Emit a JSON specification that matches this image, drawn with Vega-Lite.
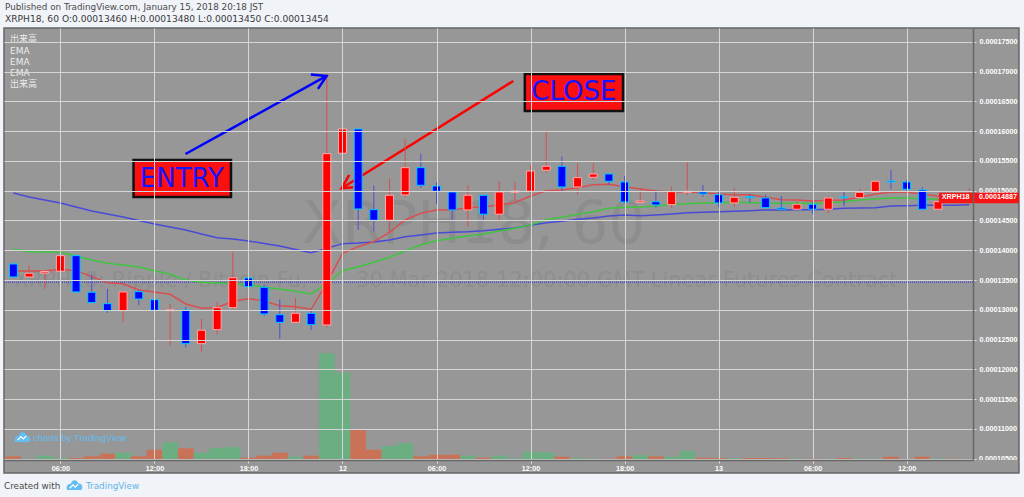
{
"$schema":"https://vega.github.io/schema/vega-lite/v6.json",
"width":969,"height":432,"autosize":{"type":"none"},
"padding":{"left":4,"top":28,"right":51,"bottom":37},
"background":"#f0f3f7",
"view":{"fill":"#979797","stroke":null},
"title":{"text":"Published on TradingView.com, January 15, 2018 20:18 JST","subtitle":"XRPH18, 60 O:0.00013460 H:0.00013480 L:0.00013450 C:0.00013454","anchor":"start","frame":"group","font":"DejaVu Sans","fontSize":8.8,"fontWeight":"normal","color":"#4a4a4a","subtitleFont":"DejaVu Sans","subtitleFontSize":9.15,"subtitleColor":"#3a3a3a","subtitlePadding":3,"offset":3,"dx":1},
"datasets":{
"bars":[
{"t":"2018-01-11T03:00:00Z","dir":"down","o":0.00013769,"h":0.00013778,"l":0.00013539,"c":0.00013551,"e1":0.00013652,"e2":0.00014016,"e3":0.00014963,"v":370},
{"t":"2018-01-11T04:00:00Z","dir":"up","o":0.00013551,"h":0.00013741,"l":0.00013546,"c":0.00013613,"e1":0.00013652,"e2":0.00013976,"e3":0.00014895,"v":130},
{"t":"2018-01-11T05:00:00Z","dir":"up","o":0.00013618,"h":0.00013652,"l":0.00013349,"c":0.00013643,"e1":0.00013652,"e2":0.00013971,"e3":0.00014845,"v":430},
{"t":"2018-01-11T06:00:00Z","dir":"up","o":0.00013647,"h":0.00013988,"l":0.00013647,"c":0.00013909,"e1":0.0001368,"e2":0.00013966,"e3":0.00014795,"v":200},
{"t":"2018-01-11T07:00:00Z","dir":"down","o":0.00013909,"h":0.00013909,"l":0.00013299,"c":0.00013299,"e1":0.00013657,"e2":0.00013904,"e3":0.00014727,"v":200},
{"t":"2018-01-11T08:00:00Z","dir":"down","o":0.00013294,"h":0.00013601,"l":0.00013114,"c":0.00013119,"e1":0.00013556,"e2":0.00013837,"e3":0.0001466,"v":370},
{"t":"2018-01-11T09:00:00Z","dir":"down","o":0.00013102,"h":0.00013349,"l":0.00012946,"c":0.00012984,"e1":0.00013455,"e2":0.00013781,"e3":0.0001461,"v":630},
{"t":"2018-01-11T10:00:00Z","dir":"up","o":0.00012984,"h":0.00013299,"l":0.00012789,"c":0.00013299,"e1":0.00013438,"e2":0.00013753,"e3":0.00014559,"v":730},
{"t":"2018-01-11T11:00:00Z","dir":"down","o":0.00013304,"h":0.00013332,"l":0.00013075,"c":0.00013181,"e1":0.00013332,"e2":0.00013719,"e3":0.000145,"v":370},
{"t":"2018-01-11T12:00:00Z","dir":"down","o":0.00013169,"h":0.00013472,"l":0.00012857,"c":0.00012991,"e1":0.00013299,"e2":0.00013657,"e3":0.00014442,"v":1030},
{"t":"2018-01-11T13:00:00Z","dir":"up","o":0.00012984,"h":0.00013097,"l":0.00012396,"c":0.00013001,"e1":0.0001326,"e2":0.00013596,"e3":0.00014391,"v":1770},
{"t":"2018-01-11T14:00:00Z","dir":"down","o":0.00012996,"h":0.00013047,"l":0.00012369,"c":0.0001243,"e1":0.00013097,"e2":0.000135,"e3":0.00014341,"v":1170},
{"t":"2018-01-11T15:00:00Z","dir":"up","o":0.0001243,"h":0.00012845,"l":0.00012295,"c":0.00012655,"e1":0.00013025,"e2":0.00013462,"e3":0.00014274,"v":730},
{"t":"2018-01-11T16:00:00Z","dir":"up","o":0.00012665,"h":0.00013131,"l":0.00012588,"c":0.00013035,"e1":0.00013035,"e2":0.0001345,"e3":0.00014211,"v":1200},
{"t":"2018-01-11T17:00:00Z","dir":"up","o":0.00013035,"h":0.00013976,"l":0.00013013,"c":0.00013539,"e1":0.00013142,"e2":0.00013438,"e3":0.0001419,"v":1300},
{"t":"2018-01-11T18:00:00Z","dir":"down","o":0.00013534,"h":0.0001359,"l":0.00013203,"c":0.00013388,"e1":0.00013186,"e2":0.00013416,"e3":0.00014156,"v":230},
{"t":"2018-01-11T19:00:00Z","dir":"down","o":0.00013378,"h":0.00013428,"l":0.00012895,"c":0.00012929,"e1":0.00013147,"e2":0.00013378,"e3":0.00014114,"v":430},
{"t":"2018-01-11T20:00:00Z","dir":"down","o":0.00012917,"h":0.00013176,"l":0.00012514,"c":0.00012789,"e1":0.00013069,"e2":0.00013349,"e3":0.00014072,"v":730},
{"t":"2018-01-11T21:00:00Z","dir":"up","o":0.00012789,"h":0.00013198,"l":0.00012785,"c":0.00012941,"e1":0.00013052,"e2":0.00013311,"e3":0.00014013,"v":330},
{"t":"2018-01-11T22:00:00Z","dir":"down","o":0.00012941,"h":0.00012996,"l":0.0001266,"c":0.00012749,"e1":0.00013008,"e2":0.00013265,"e3":0.00013959,"v":430},
{"t":"2018-01-11T23:00:00Z","dir":"up","o":0.00012744,"h":0.00016966,"l":0.00012705,"c":0.00015623,"e1":0.0001345,"e2":0.00013445,"e3":0.00014033,"v":10670},
{"t":"2018-01-12T00:00:00Z","dir":"up","o":0.0001563,"h":0.00016341,"l":0.00015047,"c":0.00016038,"e1":0.00013949,"e2":0.00013657,"e3":0.00014111,"v":8770},
{"t":"2018-01-12T01:00:00Z","dir":"down","o":0.00016038,"h":0.00016038,"l":0.00014341,"c":0.00014694,"e1":0.0001406,"e2":0.00013724,"e3":0.00014122,"v":3070},
{"t":"2018-01-12T02:00:00Z","dir":"down","o":0.00014682,"h":0.00015085,"l":0.00014319,"c":0.00014504,"e1":0.00014144,"e2":0.00013798,"e3":0.00014139,"v":1030},
{"t":"2018-01-12T03:00:00Z","dir":"up","o":0.00014504,"h":0.00015198,"l":0.00014307,"c":0.00014924,"e1":0.00014302,"e2":0.00013882,"e3":0.00014173,"v":1400},
{"t":"2018-01-12T04:00:00Z","dir":"up","o":0.00014929,"h":0.0001587,"l":0.0001489,"c":0.00015388,"e1":0.00014509,"e2":0.00013988,"e3":0.00014228,"v":1700},
{"t":"2018-01-12T05:00:00Z","dir":"down","o":0.00015388,"h":0.00015618,"l":0.00015047,"c":0.00015092,"e1":0.00014621,"e2":0.00014089,"e3":0.00014257,"v":370},
{"t":"2018-01-12T06:00:00Z","dir":"down","o":0.0001508,"h":0.00015142,"l":0.00014778,"c":0.00014991,"e1":0.00014677,"e2":0.00014161,"e3":0.0001429,"v":530},
{"t":"2018-01-12T07:00:00Z","dir":"down","o":0.00014979,"h":0.00014979,"l":0.00014492,"c":0.00014677,"e1":0.00014677,"e2":0.00014201,"e3":0.00014302,"v":530},
{"t":"2018-01-12T08:00:00Z","dir":"up","o":0.00014677,"h":0.00015085,"l":0.00014396,"c":0.00014924,"e1":0.00014716,"e2":0.0001424,"e3":0.00014312,"v":430},
{"t":"2018-01-12T09:00:00Z","dir":"down","o":0.00014924,"h":0.00014924,"l":0.00014514,"c":0.00014605,"e1":0.00014732,"e2":0.00014274,"e3":0.00014329,"v":230},
{"t":"2018-01-12T10:00:00Z","dir":"up","o":0.00014605,"h":0.00015164,"l":0.00014514,"c":0.00014979,"e1":0.00014761,"e2":0.00014324,"e3":0.00014353,"v":430},
{"t":"2018-01-12T11:00:00Z","dir":"up","o":0.00014974,"h":0.00015153,"l":0.00014816,"c":0.00014996,"e1":0.000148,"e2":0.00014369,"e3":0.00014374,"v":170},
{"t":"2018-01-12T12:00:00Z","dir":"up","o":0.00014991,"h":0.00015438,"l":0.00014946,"c":0.00015332,"e1":0.00014912,"e2":0.00014425,"e3":0.0001442,"v":830},
{"t":"2018-01-12T13:00:00Z","dir":"up","o":0.00015344,"h":0.00015988,"l":0.00015304,"c":0.00015411,"e1":0.00015001,"e2":0.00014514,"e3":0.00014463,"v":770},
{"t":"2018-01-12T14:00:00Z","dir":"down","o":0.00015411,"h":0.00015573,"l":0.00014996,"c":0.00015063,"e1":0.00015013,"e2":0.00014554,"e3":0.00014487,"v":330},
{"t":"2018-01-12T15:00:00Z","dir":"up","o":0.00015063,"h":0.00015462,"l":0.00014934,"c":0.0001522,"e1":0.00015052,"e2":0.00014605,"e3":0.00014521,"v":200},
{"t":"2018-01-12T16:00:00Z","dir":"up","o":0.00015226,"h":0.00015462,"l":0.00015186,"c":0.00015282,"e1":0.00015102,"e2":0.00014648,"e3":0.00014542,"v":130},
{"t":"2018-01-12T17:00:00Z","dir":"down","o":0.00015282,"h":0.00015282,"l":0.00015097,"c":0.00015159,"e1":0.00015109,"e2":0.00014706,"e3":0.00014576,"v":130},
{"t":"2018-01-12T18:00:00Z","dir":"down","o":0.00015148,"h":0.00015248,"l":0.00014795,"c":0.00014811,"e1":0.00015069,"e2":0.00014722,"e3":0.00014593,"v":370},
{"t":"2018-01-12T19:00:00Z","dir":"up","o":0.00014806,"h":0.00015042,"l":0.00014806,"c":0.00014828,"e1":0.0001503,"e2":0.00014722,"e3":0.00014581,"v":500},
{"t":"2018-01-12T20:00:00Z","dir":"down","o":0.00014816,"h":0.00015013,"l":0.00014716,"c":0.00014761,"e1":0.00014996,"e2":0.00014744,"e3":0.00014593,"v":370},
{"t":"2018-01-12T21:00:00Z","dir":"up","o":0.00014766,"h":0.00015069,"l":0.00014716,"c":0.00014984,"e1":0.00014979,"e2":0.00014773,"e3":0.0001461,"v":330},
{"t":"2018-01-12T22:00:00Z","dir":"up","o":0.00014974,"h":0.00015479,"l":0.00014929,"c":0.00014991,"e1":0.00014979,"e2":0.00014783,"e3":0.00014632,"v":900},
{"t":"2018-01-12T23:00:00Z","dir":"down","o":0.00014979,"h":0.00015097,"l":0.000149,"c":0.00014946,"e1":0.00014968,"e2":0.00014795,"e3":0.00014638,"v":230},
{"t":"2018-01-13T00:00:00Z","dir":"down","o":0.00014934,"h":0.00014984,"l":0.00014722,"c":0.00014795,"e1":0.00014946,"e2":0.000148,"e3":0.00014647,"v":200},
{"t":"2018-01-13T01:00:00Z","dir":"up","o":0.00014795,"h":0.00015042,"l":0.00014732,"c":0.0001489,"e1":0.00014934,"e2":0.00014806,"e3":0.00014655,"v":170},
{"t":"2018-01-13T02:00:00Z","dir":"down","o":0.000149,"h":0.00014941,"l":0.000148,"c":0.00014884,"e1":0.00014934,"e2":0.000148,"e3":0.00014665,"v":200},
{"t":"2018-01-13T03:00:00Z","dir":"down","o":0.00014879,"h":0.00014934,"l":0.00014716,"c":0.00014716,"e1":0.0001489,"e2":0.00014795,"e3":0.00014677,"v":200},
{"t":"2018-01-13T04:00:00Z","dir":"down","o":0.00014711,"h":0.00014912,"l":0.00014689,"c":0.00014689,"e1":0.0001485,"e2":0.0001479,"e3":0.00014677,"v":170},
{"t":"2018-01-13T05:00:00Z","dir":"up","o":0.00014689,"h":0.00014806,"l":0.00014677,"c":0.00014773,"e1":0.00014845,"e2":0.0001479,"e3":0.0001468,"v":130},
{"t":"2018-01-13T06:00:00Z","dir":"down","o":0.00014773,"h":0.00014816,"l":0.00014605,"c":0.00014689,"e1":0.00014828,"e2":0.0001479,"e3":0.00014682,"v":130},
{"t":"2018-01-13T07:00:00Z","dir":"up","o":0.00014689,"h":0.00014907,"l":0.00014627,"c":0.00014879,"e1":0.0001484,"e2":0.000148,"e3":0.00014689,"v":130},
{"t":"2018-01-13T08:00:00Z","dir":"down","o":0.00014895,"h":0.00014991,"l":0.00014739,"c":0.00014884,"e1":0.00014845,"e2":0.00014816,"e3":0.00014705,"v":200},
{"t":"2018-01-13T09:00:00Z","dir":"up","o":0.00014884,"h":0.0001503,"l":0.00014874,"c":0.00014974,"e1":0.0001489,"e2":0.00014845,"e3":0.00014711,"v":130},
{"t":"2018-01-13T10:00:00Z","dir":"up","o":0.00014979,"h":0.00015159,"l":0.00014968,"c":0.00015159,"e1":0.00014946,"e2":0.00014862,"e3":0.00014716,"v":130},
{"t":"2018-01-13T11:00:00Z","dir":"down","o":0.00015164,"h":0.00015349,"l":0.0001503,"c":0.00015148,"e1":0.00014974,"e2":0.00014879,"e3":0.00014744,"v":330},
{"t":"2018-01-13T12:00:00Z","dir":"down","o":0.00015148,"h":0.00015181,"l":0.00014984,"c":0.00015025,"e1":0.00014974,"e2":0.00014879,"e3":0.00014749,"v":70},
{"t":"2018-01-13T13:00:00Z","dir":"down","o":0.00015013,"h":0.00015058,"l":0.00014672,"c":0.00014689,"e1":0.00014946,"e2":0.00014867,"e3":0.00014756,"v":330},
{"t":"2018-01-13T14:00:00Z","dir":"up","o":0.00014689,"h":0.00014862,"l":0.00014689,"c":0.00014816,"e1":0.00014907,"e2":0.00014857,"e3":0.00014756,"v":170},
{"t":"2018-01-13T15:00:00Z","dir":"down","o":0.0001486,"h":0.000149,"l":0.000148,"c":0.00014816,"e1":0.00014879,"e2":0.00014845,"e3":0.00014756,"v":130},
{"t":"2018-01-13T16:00:00Z","dir":"up","o":0.00014816,"h":0.00015042,"l":0.00014816,"c":0.00014887,"e1":0.00014874,"e2":0.00014845,"e3":0.00014766,"v":100}
],
"arrows":[
{"a":"blue","s":1,"t":"2018-01-11T13:59:00Z","p":0.00015618},
{"a":"blue","s":2,"t":"2018-01-11T22:59:00Z","p":0.00016929},
{"a":"bluehead","s":1,"t":"2018-01-11T21:59:00Z","p":0.00016954},
{"a":"bluehead","s":2,"t":"2018-01-11T22:59:00Z","p":0.00016929},
{"a":"bluehead","s":3,"t":"2018-01-11T22:26:00Z","p":0.00016711},
{"a":"red","s":1,"t":"2018-01-12T10:54:00Z","p":0.00016845},
{"a":"red","s":2,"t":"2018-01-11T23:57:00Z","p":0.00015042},
{"a":"redhead","s":1,"t":"2018-01-12T00:26:00Z","p":0.00015265},
{"a":"redhead","s":2,"t":"2018-01-11T23:57:00Z","p":0.00015042},
{"a":"redhead","s":3,"t":"2018-01-12T00:41:00Z","p":0.00015058}
]
},
"encoding":{"x":{"field":"t","type":"temporal","title":null,"scale":{"type":"utc","padding":0,"nice":false,"domain":["2018-01-11T02:24:00Z","2018-01-13T16:14:00Z"]},
"axis":{"orient":"bottom","zindex":1,"title":null,"grid":true,"gridColor":"#d6d6d6","gridWidth":1,"domainColor":"#666666","domainWidth":1.5,"tickColor":"#e0e0e0","tickSize":3,"labelColor":"#ffffff","labelFont":"Liberation Sans","labelFontSize":7.2,"labelFontWeight":"bold","labelPadding":1,"labelFlush":false,"tickCount":20,
"values":["2018-01-11T06:00:00Z","2018-01-11T12:00:00Z","2018-01-11T18:00:00Z","2018-01-12T00:00:00Z","2018-01-12T06:00:00Z","2018-01-12T12:00:00Z","2018-01-12T18:00:00Z","2018-01-13T00:00:00Z","2018-01-13T06:00:00Z","2018-01-13T12:00:00Z"],
"labelExpr":"utcFormat(datum.value,'%H')=='00' ? utcFormat(datum.value,'%d') : utcFormat(datum.value,'%H:%M')"}}},
"resolve":{"scale":{"y":"independent"}},
"layer":[
{"data":{"name":"bars"},"mark":{"type":"bar","size":15.7},
 "encoding":{"y":{"field":"v","type":"quantitative","axis":null,"scale":{"domain":[0,43200],"nice":false}},
 "color":{"condition":{"test":"datum.dir=='up'","value":"#6bae82"},"value":"#c97257"}}},
{"layer":[
{"data":{"values":[{"t":"2018-01-13T16:14:00Z","t2":"2018-01-13T19:10:00Z","p":0.00017735,"p2":0.00010475}]},"mark":{"type":"rect","fill":"#979797","clip":false},
 "encoding":{"x2":{"field":"t2"},"y":{"field":"p","type":"quantitative","title":null,"scale":{"nice":false,"zero":false,"domain":[0.00010475,0.00017735]},
 "axis":{"orient":"right","zindex":1,"title":null,"grid":true,"gridColor":"#d6d6d6","gridWidth":1,"domainColor":"#666666","domainWidth":1.5,"tickColor":"#e0e0e0","tickSize":3,"labelColor":"#ffffff","labelFont":"Liberation Sans","labelFontSize":7.2,"labelFontWeight":"bold","labelPadding":3,"labelOverlap":false,"tickCount":30,
 "values":[0.000105,0.00011,0.000115,0.00012,0.000125,0.00013,0.000135,0.00014,0.000145,0.00015,0.000155,0.00016,0.000165,0.00017,0.000175],
 "labelExpr":"abs(datum.value-0.00015)<1e-9 || abs(datum.value-0.000105)<1e-9 ? '' : format(datum.value,'.8f')"}},"y2":{"field":"p2"}}},
{"data":{"values":[{"t":"2018-01-12T08:23:00Z","p":0.00014408,"s":"XRPH18, 60"}]},"mark":{"type":"text","font":"DejaVu Sans","fontSize":58,"color":"#8d8d8d","clip":true},
 "encoding":{"y":{"field":"p","type":"quantitative","scale":{"nice":false,"zero":false,"domain":[0.00010475,0.00017735]}},"text":{"field":"s"}}},
{"data":{"values":[{"t":"2018-01-11T03:02:00Z","p":0.0001349,"s":"XRPH18: Ripple / Bitcoin Fu,"},{"t":"2018-01-12T00:52:00Z","p":0.0001349,"s":"30 Mar 2018 12:00:00 GMT Linear Futures Contract"}]},"mark":{"type":"text","font":"DejaVu Sans","fontSize":21,"color":"#8e8e8e","align":"left","clip":true},
 "encoding":{"y":{"field":"p","type":"quantitative","scale":{"nice":false,"zero":false,"domain":[0.00010475,0.00017735]}},"text":{"field":"s"}}},
{"data":{"values":[{"t":"2018-01-13T16:37:00Z","p":0.00015,"s":"0.00015000"},{"t":"2018-01-13T16:37:00Z","p":0.000105,"s":"0.00010500"}]},"mark":{"type":"text","align":"left","baseline":"middle","font":"Liberation Sans","fontSize":7.2,"fontWeight":"bold","color":"#ffffff"},
 "encoding":{"y":{"field":"p","type":"quantitative","scale":{"nice":false,"zero":false,"domain":[0.00010475,0.00017735]}},"text":{"field":"s"}}},
{"data":{"values":[{"t":"2018-01-11T02:24:00Z","t2":"2018-01-13T19:10:00Z","p":0.00010475,"p2":0.00010256}]},"mark":{"type":"rect","fill":"#979797","clip":false},
 "encoding":{"x2":{"field":"t2"},"y":{"field":"p","type":"quantitative","scale":{"nice":false,"zero":false,"domain":[0.00010475,0.00017735]}},"y2":{"field":"p2"}}},
{"data":{"values":[{"t":"2018-01-11T02:24:00Z","t2":"2018-01-13T19:10:00Z","p":0.00017735,"p2":0.00010256}]},"mark":{"type":"rect","fillOpacity":0,"stroke":"#666666","strokeWidth":1.5,"clip":false},
 "encoding":{"x2":{"field":"t2"},"y":{"field":"p","type":"quantitative","scale":{"nice":false,"zero":false,"domain":[0.00010475,0.00017735]}},"y2":{"field":"p2"}}},
{"data":{"values":[{"p":0.00013462}]},"mark":{"type":"rule","color":"#4f4fd0","strokeWidth":1.5,"strokeDash":[1,1]},
 "encoding":{"x":null,"y":{"field":"p","type":"quantitative","scale":{"nice":false,"zero":false,"domain":[0.00010475,0.00017735]}}}},
{"data":{"name":"bars"},"mark":{"type":"line","color":"#4a4ad8","strokeWidth":1.5},"encoding":{"y":{"field":"e3","type":"quantitative","scale":{"nice":false,"zero":false,"domain":[0.00010475,0.00017735]}}}},
{"data":{"name":"bars"},"mark":{"type":"line","color":"#3fc43f","strokeWidth":1.5},"encoding":{"y":{"field":"e2","type":"quantitative","scale":{"nice":false,"zero":false,"domain":[0.00010475,0.00017735]}}}},
{"data":{"name":"bars"},"mark":{"type":"line","color":"#d94f4f","strokeWidth":1.5},"encoding":{"y":{"field":"e1","type":"quantitative","scale":{"nice":false,"zero":false,"domain":[0.00010475,0.00017735]}}}},
{"data":{"name":"arrows"},"transform":[{"filter":"datum.a=='red' || datum.a=='redhead'"}],"mark":{"type":"line","color":"#ff0000","strokeWidth":2.5},
 "encoding":{"y":{"field":"p","type":"quantitative","scale":{"nice":false,"zero":false,"domain":[0.00010475,0.00017735]}},"detail":{"field":"a"},"order":{"field":"s"}}},
{"data":{"name":"bars"},"mark":{"type":"rule","strokeWidth":1},
 "encoding":{"y":{"field":"h","type":"quantitative","scale":{"nice":false,"zero":false,"domain":[0.00010475,0.00017735]}},"y2":{"field":"l"},"color":{"condition":{"test":"datum.dir=='up'","value":"#d94f4f"},"value":"#4f4fd8"}}},
{"data":{"name":"bars"},"mark":{"type":"bar","size":8,"strokeWidth":1},
 "encoding":{"y":{"field":"o","type":"quantitative","scale":{"nice":false,"zero":false,"padding":0,"domain":[0.00010475,0.00017735]}},"y2":{"field":"c"},
 "fill":{"condition":{"test":"datum.dir=='up'","value":"#ff0000"},"value":"#0000ff"},
 "stroke":{"condition":{"test":"datum.dir=='up'","value":"#ffaaaa"},"value":"#00ccff"}}},
{"data":{"name":"arrows"},"transform":[{"filter":"datum.a=='blue' || datum.a=='bluehead'"}],"mark":{"type":"line","color":"#0000ff","strokeWidth":2.5},
 "encoding":{"y":{"field":"p","type":"quantitative","scale":{"nice":false,"zero":false,"domain":[0.00010475,0.00017735]}},"detail":{"field":"a"},"order":{"field":"s"}}},
{"data":{"values":[{"t":"2018-01-11T10:40:00Z","t2":"2018-01-11T16:53:00Z","p":0.00015517,"p2":0.00014895},{"t":"2018-01-12T11:38:00Z","t2":"2018-01-12T17:54:00Z","p":0.00016963,"p2":0.00016341}]},"mark":{"type":"rect","fill":"#fa1010","stroke":"#111111","strokeWidth":2.5},
 "encoding":{"x2":{"field":"t2"},"y":{"field":"p","type":"quantitative","scale":{"nice":false,"zero":false,"domain":[0.00010475,0.00017735]}},"y2":{"field":"p2"}}},
{"data":{"values":[{"t":"2018-01-11T13:45:00Z","p":0.00015198,"s":"ENTRY"},{"t":"2018-01-12T14:46:00Z","p":0.00016652,"s":"CLOSE"}]},"mark":{"type":"text","font":"DejaVu Sans","fontSize":26,"color":"#1414ff","baseline":"middle"},
 "encoding":{"y":{"field":"p","type":"quantitative","scale":{"nice":false,"zero":false,"domain":[0.00010475,0.00017735]}},"text":{"field":"s"}}},
{"data":{"values":[{"t":"2018-01-11T02:47:00Z","p":0.0001755,"s":"出来高"},{"t":"2018-01-11T02:47:00Z","p":0.00017349,"s":"EMA"},{"t":"2018-01-11T02:47:00Z","p":0.00017164,"s":"EMA"},{"t":"2018-01-11T02:47:00Z","p":0.00016979,"s":"EMA"},{"t":"2018-01-11T02:47:00Z","p":0.00016794,"s":"出来高"}]},"mark":{"type":"text","font":"DejaVu Sans, Noto Sans CJK JP","fontSize":9,"color":"#ececec","align":"left","baseline":"middle"},
 "encoding":{"y":{"field":"p","type":"quantitative","scale":{"nice":false,"zero":false,"domain":[0.00010475,0.00017735]}},"text":{"field":"s"}}},
{"data":{"values":[{"t":"2018-01-11T04:15:00Z","p":0.0001084,"s":"charts by TradingView"}]},"mark":{"type":"text","font":"Liberation Sans","fontSize":9.5,"color":"#62bdf0","align":"left","baseline":"middle"},
 "encoding":{"y":{"field":"p","type":"quantitative","scale":{"nice":false,"zero":false,"domain":[0.00010475,0.00017735]}},"text":{"field":"s"}}},
{"data":{"values":[{"t":"2018-01-11T03:35:00Z","p":0.00010855},{"t":"2018-01-11T06:54:00Z","p":0.00010045}]},"mark":{"type":"point","filled":true,"opacity":1,"color":"#62bdf0","size":225,"shape":"M-1,0.6C-1.2,0,-0.8,-0.25,-0.5,-0.2C-0.4,-0.8,0.3,-0.9,0.5,-0.3C1,-0.3,1.2,0.3,0.9,0.6Z","clip":false},
 "encoding":{"y":{"field":"p","type":"quantitative","scale":{"nice":false,"zero":false,"domain":[0.00010475,0.00017735]}}}},
{"data":{"values":[{"t":"2018-01-11T03:35:00Z","p":0.00010855},{"t":"2018-01-11T06:54:00Z","p":0.00010045}]},"mark":{"type":"point","filled":false,"opacity":1,"stroke":"#ffffff","strokeWidth":1.2,"size":225,"shape":"M-0.65,0.35L-0.2,-0.1L0.1,0.2L0.5,-0.2","clip":false},
 "encoding":{"y":{"field":"p","type":"quantitative","scale":{"nice":false,"zero":false,"domain":[0.00010475,0.00017735]}}}},
{"data":{"values":[{"t":"2018-01-11T02:24:00Z","p":0.00010045,"s":"Created with"}]},"mark":{"type":"text","font":"DejaVu Sans","fontSize":8.8,"color":"#4a4a4a","align":"left","baseline":"middle"},
 "encoding":{"y":{"field":"p","type":"quantitative","scale":{"nice":false,"zero":false,"domain":[0.00010475,0.00017735]}},"text":{"field":"s"}}},
{"data":{"values":[{"t":"2018-01-11T06:54:00Z","p":0.00010045,"s":"TradingView"}]},"mark":{"type":"text","font":"DejaVu Sans","fontSize":8.8,"color":"#62b4e8","align":"left","baseline":"middle","dx":11.5},
 "encoding":{"y":{"field":"p","type":"quantitative","scale":{"nice":false,"zero":false,"domain":[0.00010475,0.00017735]}},"text":{"field":"s"}}},
{"data":{"values":[{"t":"2018-01-13T14:04:00Z","t2":"2018-01-13T19:10:00Z","p":0.00014968,"p2":0.0001479}]},"mark":{"type":"rect","fill":"#f81414","clip":false},
 "encoding":{"x2":{"field":"t2"},"y":{"field":"p","type":"quantitative","scale":{"nice":false,"zero":false,"domain":[0.00010475,0.00017735]}},"y2":{"field":"p2"}}},
{"data":{"values":[{"t":"2018-01-13T14:14:00Z","p":0.00014887,"s":"XRPH18"},{"t":"2018-01-13T16:37:00Z","p":0.00014887,"s":"0.00014887"}]},"mark":{"type":"text","font":"Liberation Sans","fontSize":7.2,"fontWeight":"bold","color":"#ffffff","align":"left","baseline":"middle"},
 "encoding":{"y":{"field":"p","type":"quantitative","scale":{"nice":false,"zero":false,"domain":[0.00010475,0.00017735]}},"text":{"field":"s"}}}
]}
]
}
